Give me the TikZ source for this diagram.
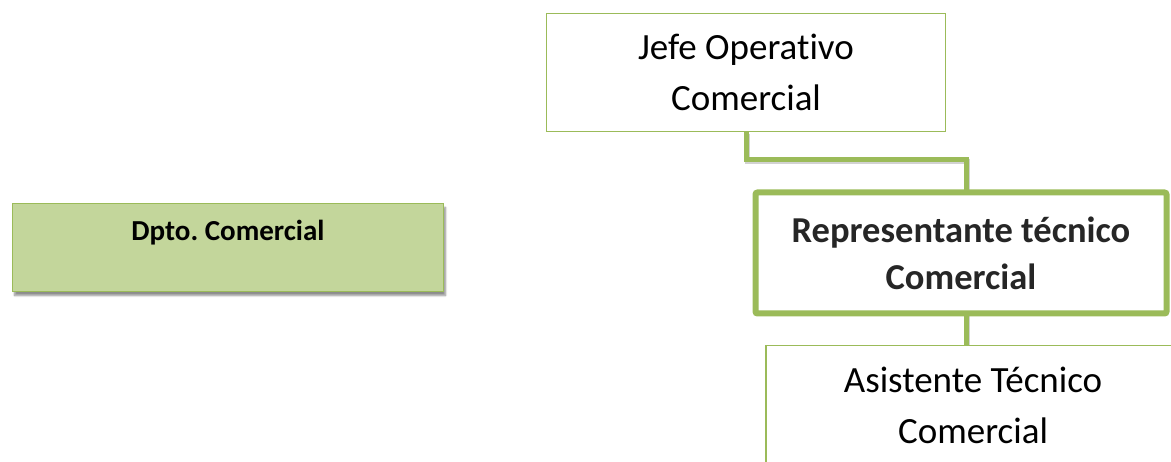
\documentclass[tikz,border=0pt]{standalone}
\usepackage{fontspec}
\setmainfont{Carlito}[Ligatures={NoCommon}]
\frenchspacing
\usetikzlibrary{shadows.blur,backgrounds}
\definecolor{olgreen}{HTML}{9BBB59}
\definecolor{olfill}{HTML}{C3D69B}
\definecolor{darktext}{HTML}{262626}
\tikzset{
  bigfont/.style={font=\fontsize{37}{50.5}\selectfont},
  plainbox/.style={draw=olgreen, line width=1.5pt, fill=white, align=center,
    inner sep=0pt, bigfont},
  headbox/.style={draw=olgreen, line width=6pt, fill=white, rounded corners=2pt,
    align=center, inner sep=0pt, font=\fontsize{36.5}{47}\selectfont\bfseries,
    text=darktext},
  deptbox/.style={draw=olgreen, line width=1.5pt, fill=olfill, inner sep=0pt,
    blur shadow={shadow xshift=2pt, shadow yshift=-4pt, shadow blur steps=6,
      shadow opacity=45}},
  link/.style={draw=olgreen, line width=5pt},
  linkshade/.style={draw=black!35, line width=5pt, opacity=0.5}
}
\begin{document}
\begin{tikzpicture}[x=1pt,y=-1pt]
  \useasboundingbox (0,0) rectangle (1171,462);
  \clip (0,0) rectangle (1171,462);

  % department label box
  \node[deptbox, minimum width=431pt, minimum height=88pt,
        label={[font=\fontsize{29}{35}\selectfont\bfseries, yshift=14.5pt]center:Dpto. Comercial}]
        (dpto) at (228,247.5) {};

  % hierarchy boxes
  \node[plainbox, minimum width=399pt, minimum height=118pt] (jefe) at (746,72.5)
    {Jefe Operativo\\Comercial};
  \node[headbox, minimum width=411pt, minimum height=121pt] (rep) at (961,253)
    {Representante técnico\\Comercial};
  \node[plainbox, minimum width=414pt, minimum height=120pt] (asis) at (973,405.5)
    {Asistente Técnico\\Comercial};

  % connectors with a faint shade, kept behind the boxes
  \coordinate (bend) at (966,160);
  \begin{scope}[on background layer]
    \draw[linkshade] ([xshift=1.5pt,yshift=-2pt]jefe.south) |- ([xshift=1.5pt,yshift=-2pt]bend)
       -- ([xshift=1.5pt]bend |- rep.center);
    \draw[link] (jefe.center) |- (bend) -- (bend |- rep.center);
    \draw[linkshade] ([xshift=1.5pt]bend |- rep.center) -- ([xshift=1.5pt]bend |- asis.center);
    \draw[link] (bend |- rep.center) -- (bend |- asis.center);
  \end{scope}
\end{tikzpicture}
\end{document}
